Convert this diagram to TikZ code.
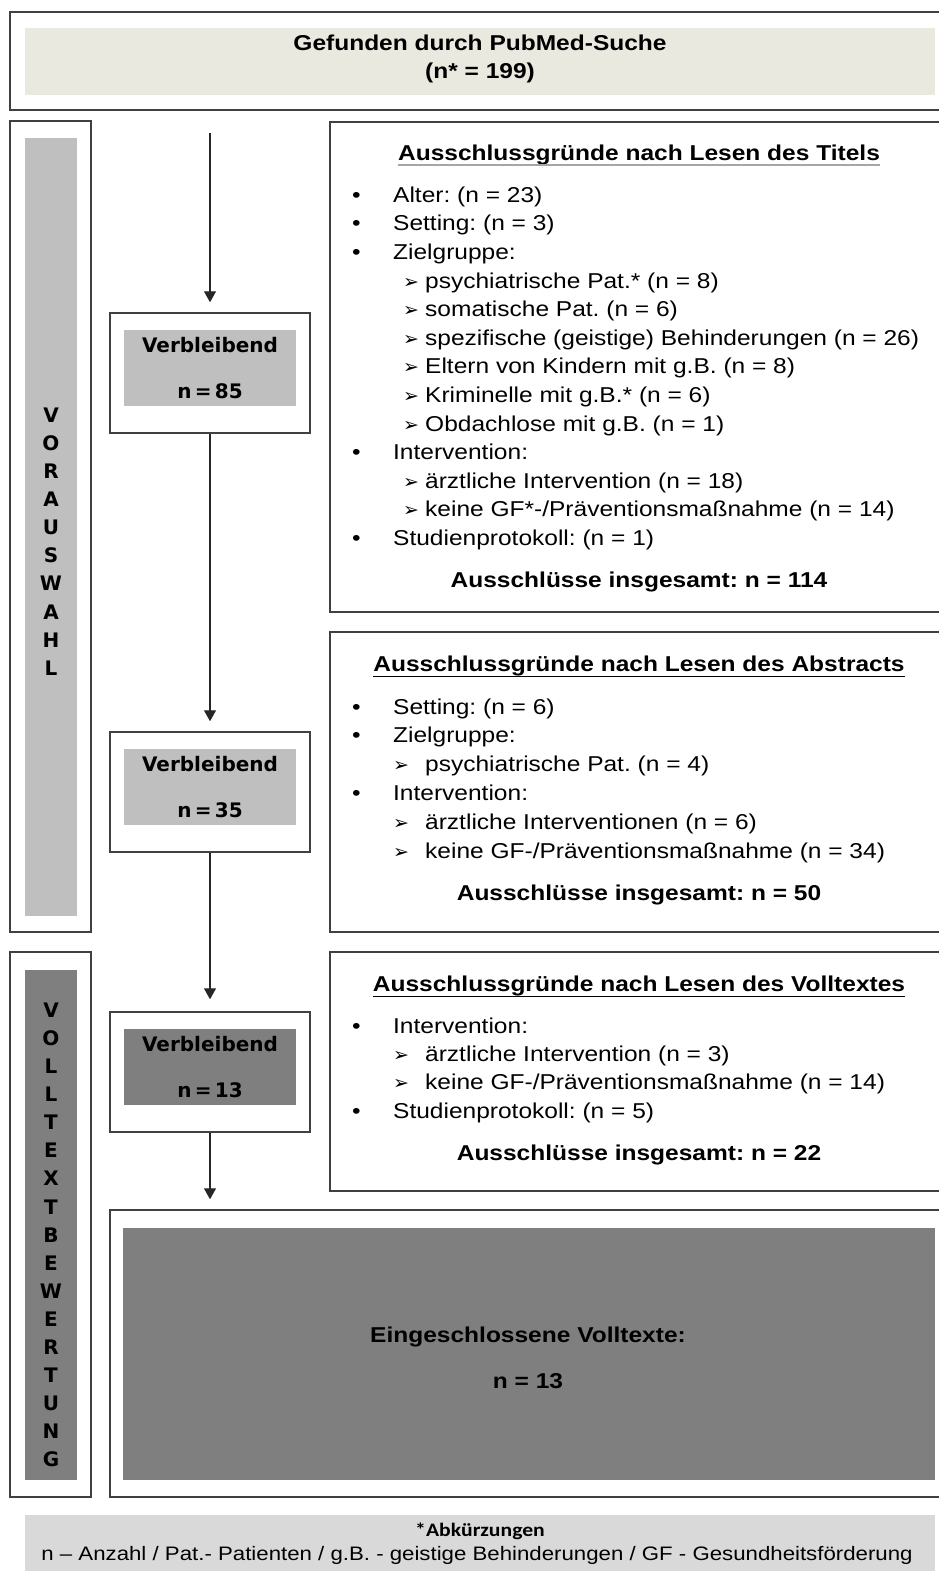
\documentclass[tikz,border=0pt]{standalone}
\usepackage{fontspec}
\setmainfont{Liberation Sans}[FakeStretch=1.14]
\newfontfamily\vfont{DejaVu Sans}
\newfontfamily\cfont{Carlito}[FakeStretch=1.14]
\usetikzlibrary{arrows.meta, positioning}
\definecolor{framegray}{HTML}{404040}
\definecolor{beigefill}{HTML}{EAE9DF}
\definecolor{lightfill}{HTML}{BFBFBF}
\definecolor{darkfill}{HTML}{7F7F7F}
\definecolor{footfill}{HTML}{D9D9D9}
\frenchspacing
\newcommand{\arrowtip}{{\vfont\fontsize{19}{28}\selectfont ➢}}
\newcommand{\bul}{\makebox[41pt][l]{\textbullet}}
\newcommand{\subA}{\hspace*{51pt}\makebox[22pt][l]{\arrowtip}}
\newcommand{\subB}{\hspace*{41pt}\makebox[32pt][l]{\arrowtip}}

\begin{document}
\begin{tikzpicture}[
    x=1pt, y=-1pt,
    frame/.style={draw=framegray, line width=1.5pt, inner sep=0},
    panel/.style={draw=none, inner sep=0},
    letters/.style={align=center, inner sep=0, font=\vfont\bfseries\fontsize{20}{28.1}\selectfont},
    remain/.style={align=center, inner sep=0, font=\vfont\bfseries\fontsize{20}{46}\selectfont},
    heading/.style={anchor=base, inner sep=0, text depth=5pt, font=\bfseries\fontsize{21.5}{26}\selectfont},
    total/.style={anchor=base, inner sep=0, font=\bfseries\fontsize{21.5}{26}\selectfont},
    listtext/.style={align=left, inner sep=0, anchor=north west, font=\fontsize{21.5}{#1}\selectfont},
    arrow/.style={-{Triangle[length=11pt,width=12pt]}, line width=1.3pt, black!85},
]
    \useasboundingbox (0,0) rectangle (939,1571);
    \clip (0,0) rectangle (939,1571);

    % top
    \node[frame, minimum width=940pt, minimum height=98pt] (top) at (480,61) {};
    \node[panel, fill=beigefill, minimum width=910pt, minimum height=67pt] (topfill) at (480,61.5) {};
    \node[align=center, inner sep=0, anchor=north, font=\bfseries\fontsize{21.5}{28}\selectfont] (title) at (480,30.4)
        {\strut Gefunden durch PubMed-Suche\\(n* = 199)};

    % side panels
    \node[frame, minimum width=81pt, minimum height=811pt] (pre) at (50.5,526.5) {};
    \node[panel, fill=lightfill, minimum width=52pt, minimum height=778pt] (prefill) at (51,527) {};
    \node[letters] (prelabel) at (51,541.5) {V\\O\\R\\A\\U\\S\\W\\A\\H\\L};

    \node[frame, minimum width=81pt, minimum height=545pt] (full) at (50.5,1224.5) {};
    \node[panel, fill=darkfill, minimum width=52pt, minimum height=510pt] (fullfill) at (51,1225) {};
    \node[letters] (fulllabel) at (51,1235) {V\\O\\L\\L\\T\\E\\X\\T\\B\\E\\W\\E\\R\\T\\U\\N\\G};

    % remaining
    \node[frame, minimum width=200pt, minimum height=120pt] (v1) at (210,373) {};
    \node[panel, fill=lightfill, minimum width=172pt, minimum height=76pt, remain] (v1fill) at (210,368) {Verbleibend\\n\,=\,85};
    \node[frame, minimum width=200pt, minimum height=120pt] (v2) at (210,792) {};
    \node[panel, fill=lightfill, minimum width=172pt, minimum height=76pt, remain] (v2fill) at (210,787) {Verbleibend\\n\,=\,35};
    \node[frame, minimum width=200pt, minimum height=120pt] (v3) at (210,1072) {};
    \node[panel, fill=darkfill, minimum width=172pt, minimum height=76pt, remain] (v3fill) at (210,1067) {Verbleibend\\n\,=\,13};

    % exclusions
    \node[frame, minimum width=620pt, minimum height=490pt] (r1) at (640,367) {};
    \node[heading] (h1) at (639,160) {Ausschlussgründe nach Lesen des Titels};
    \draw[black!35, line width=1.5pt] (h1.south west) -- (h1.south east);
    \node[listtext=28.6] (l1) at (352,182) {\strut\bul Alter: (n = 23)\\
        \bul Setting: (n = 3)\\
        \bul Zielgruppe:\\
        \subA psychiatrische Pat.* (n = 8)\\
        \subA somatische Pat. (n = 6)\\
        \subA spezifische (geistige) Behinderungen (n = 26)\\
        \subA Eltern von Kindern mit g.B. (n = 8)\\
        \subA Kriminelle mit g.B.* (n = 6)\\
        \subA Obdachlose mit g.B. (n = 1)\\
        \bul Intervention:\\
        \subA ärztliche Intervention (n = 18)\\
        \subA keine GF*-/Präventionsmaßnahme (n = 14)\\
        \bul Studienprotokoll: (n = 1)};
    \node[total] (t1) at (639,587) {Ausschlüsse insgesamt: n = 114};

    \node[frame, minimum width=620pt, minimum height=300pt] (r2) at (640,782) {};
    \node[heading] (h2) at (639,671) {Ausschlussgründe nach Lesen des Abstracts};
    \draw[black, line width=1.2pt] (h2.south west) -- (h2.south east);
    \node[listtext=28.8] (l2) at (352,693.8) {\strut\bul Setting: (n = 6)\\
        \bul Zielgruppe:\\
        \subB psychiatrische Pat. (n = 4)\\
        \bul Intervention:\\
        \subB ärztliche Interventionen (n = 6)\\
        \subB keine GF-/Präventionsmaßnahme (n = 34)};
    \node[total] (t2) at (639,900) {Ausschlüsse insgesamt: n = 50};

    \node[frame, minimum width=620pt, minimum height=239pt] (r3) at (640,1071.5) {};
    \node[heading] (h3) at (639,991) {Ausschlussgründe nach Lesen des Volltextes};
    \draw[black, line width=1.2pt] (h3.south west) -- (h3.south east);
    \node[listtext=28.3] (l3) at (352,1013.2) {\strut\bul Intervention:\\
        \subB ärztliche Intervention (n = 3)\\
        \subB keine GF-/Präventionsmaßnahme (n = 14)\\
        \bul Studienprotokoll: (n = 5)};
    \node[total] (t3) at (639,1160) {Ausschlüsse insgesamt: n = 22};

    % included
    \node[frame, minimum width=840pt, minimum height=287pt] (final) at (530,1353.5) {};
    \node[panel, fill=darkfill, minimum width=812pt, minimum height=252pt] (finalfill) at (529,1354) {};
    \node[align=center, inner sep=0, anchor=north, font=\bfseries\fontsize{21.5}{46}\selectfont] (finaltext) at (528,1309.8)
        {\strut Eingeschlossene Volltexte:\\n = 13};

    % abbreviations
    \node[panel, fill=footfill, minimum width=910pt, minimum height=60pt] (foot) at (480,1545) {};
    \node[anchor=base, inner sep=0, font=\cfont\bfseries\fontsize{19}{23}\selectfont] (foothead) at (480,1536) {*Abkürzungen};
    \node[anchor=base, inner sep=0, font=\fontsize{19.5}{23}\selectfont] (footline) at (477,1560)
        {n – Anzahl / Pat.- Patienten / g.B. - geistige Behinderungen / GF - Gesundheitsförderung};

    % flow
    \draw[arrow, shorten <=22pt, shorten >=10pt] (v1.north |- top.south) -- (v1.north);
    \draw[arrow, shorten >=10pt] (v1) -- (v2);
    \draw[arrow, shorten >=12pt] (v2) -- (v3);
    \draw[arrow, shorten >=10pt] (v3) -- (v3.south |- final.north);
\end{tikzpicture}
\end{document}
